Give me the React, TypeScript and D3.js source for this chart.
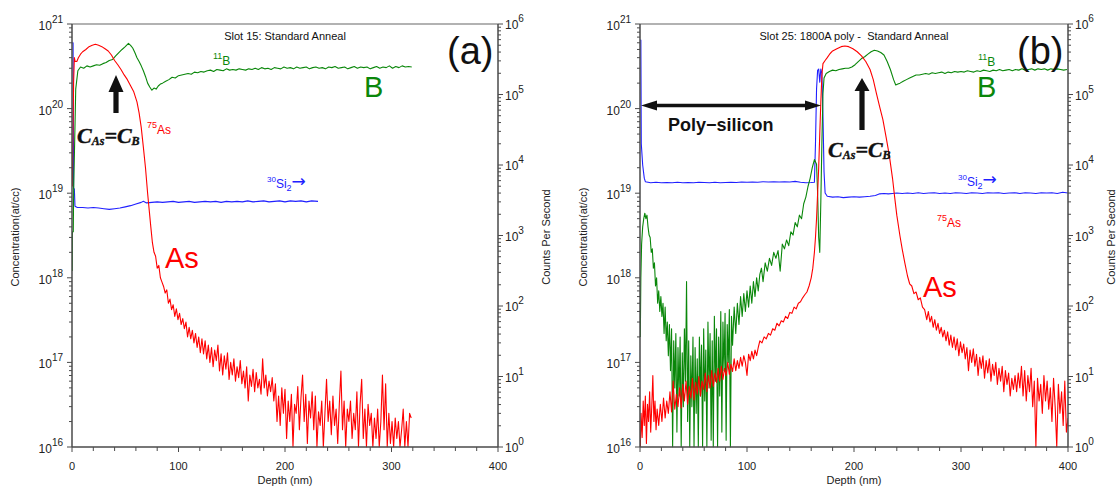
import React from "react";
import * as d3 from "d3";

type Pt = [number, number];

const depthTicks = [0, 100, 200, 300, 400];
const concExponents = [16, 17, 18, 19, 20, 21];
const countExponents = [0, 1, 2, 3, 4, 5, 6];

// Slot 15 (a): depth nm, concentration at/cc
const as15: Pt[] = [[0.3,1.2e19],[0.8,4e19],[1.5,2e20],[2.2,4e20],[3,3.6e20],[4.5,3.6e20],[6,4e20],[8,4.4e20],[10,4.7e20],[13,5e20],[16,5.4e20],[19,5.6e20],[22,5.75e20],[25,5.6e20],[28,5.4e20],[31,5.1e20],[34,4.8e20],[37,4.3e20],[40,3.7e20],[43,3.3e20],[46,2.9e20],[49,2.5e20],[52,2.2e20],[55,1.86e20],[58,1.58e20],[61,1.2e20],[63,8.9e19],[65,6e19],[67,3.5e19],[69,2e19],[71,1e19],[72.5,6.3e18],[74,4e18],[75.5,2.6e18],[77,2e18],[78.5,1.8e18],[80,1.3e18],[81.5,1.4e18],[83,1e18],[84.5,8.9e17],[86,7.9e17],[87.5,6.6e17],[89,7.2e17],[90.5,5e17],[92,5.6e17],[93.5,4.2e17],[95,4.8e17],[96.5,3.5e17],[98,4.3e17],[99.5,3.2e17],[101,3.8e17],[102.5,2.8e17],[104,3.3e17],[105.5,2.5e17],[107,3e17],[108.5,2e17],[110,2.6e17],[111.5,1.9e17],[113,2.4e17],[114.5,1.7e17],[116,2.2e17],[117.5,1.5e17],[119,2e17],[120.5,1.3e17],[122,1.9e17],[123.5,1.26e17],[125,1.8e17],[126.5,1.1e17],[128,1.6e17],[129.5,1e17],[131,1.5e17],[132.5,8.9e16],[134,1.4e17],[135.5,1.05e17],[137,1.6e17],[138.5,7.9e16],[140,1.26e17],[141.5,7.1e16],[143,1.2e17],[144.5,8.3e16],[146,1.3e17],[147.5,6.3e16],[149,1e17],[150.5,7.1e16],[152,1.1e17],[153.5,6e16],[155,8.9e16],[156.5,6.6e16],[158,1.05e17],[159.5,5.6e16],[161,7.9e16],[162.5,5e16],[164,8.9e16],[165.5,3.5e16],[167,7.1e16],[168.5,5.2e16],[170,8.3e16],[171.5,4.5e16],[173,7.6e16],[174.5,5e16],[176,6.3e16],[177.5,4.2e16],[179,1.1e17],[180.5,5e16],[182,7.1e16],[183.5,4e16],[185,6e16],[186.5,4.5e16],[188,6.6e16],[189.5,3.5e16],[191,5.6e16],[192.5,2e16],[194,4e16],[195.5,1.8e16],[197,5e16],[198.5,2.5e16],[200,4.8e16],[201.5,1.26e16],[203,3.5e16],[204.5,2e16],[206,4.2e16],[207.5,1e16],[209,3.2e16],[210.5,2.5e16],[212,5.2e16],[213.5,1.6e16],[215,3.8e16],[216.5,7.1e16],[218,2e16],[219.5,4.2e16],[221,1.1e16],[222.5,3.5e16],[224,2.2e16],[225.5,4.5e16],[227,1.6e16],[228.5,4e16],[230,1e16],[231.5,2.6e16],[233,1.8e16],[234.5,3.5e16],[236,1e16],[237.5,2.5e16],[239,6.3e16],[240.5,2e16],[242,3.5e16],[243.5,1.4e16],[245,4e16],[246.5,1.8e16],[248,2.8e16],[249.5,1.1e16],[251,3.2e16],[252.5,7.9e16],[254,1.6e16],[255.5,3.5e16],[257,1e16],[258.5,2.8e16],[260,2e16],[261.5,3.5e16],[263,1.26e16],[264.5,2.5e16],[266,1.6e16],[267.5,4.5e16],[269,1e16],[270.5,3.2e16],[272,6.3e16],[273.5,1.26e16],[275,2.8e16],[276.5,1e16],[278,3.2e16],[279.5,1.8e16],[281,2.5e16],[282.5,1e16],[284,2.2e16],[285.5,1.26e16],[287,2.8e16],[288.5,1e16],[290,2e16],[291.5,7.1e16],[293,1.6e16],[294.5,5.6e16],[296,1e16],[297.5,2.5e16],[299,1.1e16],[300.5,2e16],[302,1e16],[303.5,2.2e16],[305,1.26e16],[306.5,2e16],[308,1e16],[309.5,1.6e16],[311,2.8e16],[312.5,1e16],[314,2e16],[315.5,1e16],[317,2.5e16],[318.5,2.2e16]];

const b15: Pt[] = [[0.2,1.2e18],[0.4,3.5e18],[1.2,3.5e18],[1.6,1.2e19],[2.5,4e19],[3.5,1.7e20],[5.5,2.8e20],[8,3.1e20],[11,3e20],[14,3.2e20],[17,3.1e20],[20,3.2e20],[23,3.3e20],[26,3.25e20],[29,3.4e20],[32,3.5e20],[35,3.7e20],[38,3.8e20],[41,4.2e20],[44,4.6e20],[47,5e20],[50,5.4e20],[53,5.9e20],[55,5.6e20],[57,5.2e20],[59,4.6e20],[61,4e20],[63,3.6e20],[65,3.2e20],[67,2.8e20],[69,2.4e20],[71,2e20],[73,1.8e20],[75,1.65e20],[77,1.75e20],[79,1.7e20],[81,1.85e20],[83,1.95e20],[85,2e20],[88,2.1e20],[91,2.2e20],[94,2.35e20],[97,2.3e20],[100,2.45e20],[103,2.5e20],[106,2.55e20],[109,2.6e20],[112,2.55e20],[115,2.7e20],[118,2.65e20],[121,2.75e20],[124,2.7e20],[127,2.8e20],[130,2.85e20],[133,2.75e20],[136,2.9e20],[139,2.85e20],[142,2.8e20],[145,2.95e20],[148,2.85e20],[151,2.9e20],[154,2.85e20],[157,2.95e20],[160,2.9e20],[163,2.85e20],[166,2.95e20],[169,2.9e20],[172,3e20],[175,2.9e20],[178,3.05e20],[181,2.95e20],[184,3e20],[187,2.9e20],[190,3.05e20],[193,3e20],[196,2.95e20],[199,3.1e20],[202,3e20],[205,3.05e20],[208,2.95e20],[211,3.1e20],[214,3e20],[217,3.05e20],[220,3.1e20],[223,2.95e20],[226,3.05e20],[229,3.1e20],[232,3e20],[235,3.05e20],[238,2.95e20],[241,3.1e20],[244,3.05e20],[247,3.15e20],[250,3e20],[253,3.05e20],[256,3.1e20],[259,2.95e20],[262,3.05e20],[265,3.15e20],[268,3e20],[271,3.1e20],[274,3.05e20],[277,3.1e20],[280,2.95e20],[283,3.05e20],[286,3.15e20],[289,3e20],[292,3.1e20],[295,3.05e20],[298,3.2e20],[301,3e20],[304,3.15e20],[307,3.05e20],[310,3.2e20],[313,3.1e20],[316,3.15e20],[319,3.1e20]];

// counts per second
const si15: Pt[] = [[0.2,5.4e5],[1,5.4e5],[1.5,4.6e3],[2.2,4.6e3],[2.8,2.6e3],[5,2.5e3],[10,2.5e3],[15,2.45e3],[20,2.5e3],[25,2.45e3],[30,2.4e3],[35,2.35e3],[40,2.4e3],[45,2.45e3],[50,2.55e3],[55,2.65e3],[60,2.8e3],[65,2.95e3],[67,3.05e3],[70,2.9e3],[75,2.95e3],[80,3e3],[85,2.95e3],[90,3e3],[95,3.05e3],[100,2.95e3],[105,3e3],[110,3.05e3],[115,2.95e3],[120,3e3],[125,3.05e3],[130,3e3],[135,3.05e3],[140,2.95e3],[145,3.05e3],[150,3e3],[155,3.05e3],[160,3e3],[165,3.1e3],[170,3e3],[175,3.05e3],[180,3.1e3],[185,3e3],[190,3.05e3],[195,3.1e3],[200,3e3],[205,3.1e3],[210,3.05e3],[215,3.1e3],[220,3e3],[225,3.1e3],[231,3.05e3]];

// Slot 25 (b)
const as25: Pt[] = [[0.3,1e16],[1,2.5e16],[2,1.3e16],[3,3.5e16],[4,1.8e16],[5,4e16],[6,1.1e16],[7,3.2e16],[8,2e16],[9,4.5e16],[10,1.5e16],[11,3e16],[12,7e16],[13,2e16],[14,3.5e16],[15,1.6e16],[16,2.8e16],[17.5,1.8e16],[19,3.2e16],[20.5,2e16],[22,3.8e16],[23.5,2.2e16],[25,3.5e16],[26.5,2.5e16],[28,4.5e16],[29.5,2.6e16],[31,6e16],[32.5,2.8e16],[34,4.2e16],[35.5,3e16],[37,5e16],[38.5,2.9e16],[40,5.5e16],[41.5,3.5e16],[43,6e16],[44.5,3.2e16],[46,5.2e16],[47.5,3.8e16],[49,6.5e16],[50.5,3.6e16],[52,5.8e16],[53.5,4.2e16],[55,6.8e16],[56.5,4e16],[58,6e16],[59.5,4.8e16],[61,7.5e16],[62.5,4.5e16],[64,7e16],[65.5,5e16],[67,8e16],[68.5,5.2e16],[70,7.5e16],[71.5,5.8e16],[73,8.5e16],[74.5,6e16],[76,9e16],[77.5,6.3e16],[79,8.5e16],[80.5,7e16],[82,1e17],[83.5,7.2e16],[85,9.5e16],[86.5,7.8e16],[88,1.1e17],[89.5,8e16],[91,1.05e17],[92.5,8.5e16],[94,1.15e17],[95.5,9e16],[97,1.2e17],[98.5,1e17],[100,7e16],[101.5,1.25e17],[103,1.05e17],[104.5,1.35e17],[106,1.1e17],[107.5,1.4e17],[109,1.2e17],[110.5,1.5e17],[112,1.8e17],[114,1.7e17],[116,2e17],[118,1.9e17],[120,2.2e17],[122,2.1e17],[124,2.5e17],[126,2.4e17],[128,2.9e17],[130,2.7e17],[132,3.1e17],[134,3e17],[136,3.5e17],[138,3.3e17],[140,3.9e17],[142,3.8e17],[144,4.5e17],[146,4.3e17],[148,5e17],[150,5.2e17],[152,5.8e17],[154,6.3e17],[156,6.8e17],[158,8e17],[160,1e18],[161.5,1.3e18],[163,2e18],[164,3e18],[165,5e18],[166,1e19],[167,2e19],[168,5e19],[169,1.2e20],[170,2.5e20],[171,3.4e20],[173,3.7e20],[175,4e20],[177.5,4.45e20],[180,4.8e20],[184,5.1e20],[188,5.4e20],[191.5,5.5e20],[195,5.4e20],[199,5.1e20],[203,4.7e20],[207,4.2e20],[211,3.6e20],[215,2.9e20],[218,2.2e20],[221,1.5e20],[224,1.05e20],[227,7.4e19],[230,4.6e19],[233,2.8e19],[236,1.5e19],[238,9e18],[240,5.5e18],[243,3.1e18],[245,2.2e18],[247.5,1.5e18],[250,1.05e18],[252,8.5e17],[254,8e17],[256,6.5e17],[258,6.8e17],[260,5.5e17],[262,5.8e17],[264,4.5e17],[266,4.2e17],[268,3.2e17],[269.5,4e17],[271,3e17],[272.5,3.5e17],[274,2.6e17],[275.5,3.2e17],[277,2.4e17],[278.5,2.9e17],[280,2.2e17],[281.5,2.6e17],[283,2e17],[284.5,2.4e17],[286,1.8e17],[287.5,2.3e17],[289,1.6e17],[290.5,2.1e17],[292,1.5e17],[293.5,2e17],[295,1.4e17],[296.5,1.9e17],[298,1.2e17],[299.5,1.75e17],[301,1.3e17],[302.5,1.65e17],[304,1.1e17],[305.5,1.5e17],[307,8e16],[308.5,1.4e17],[310,1e17],[311.5,1.45e17],[313,9e16],[314.5,1.25e17],[316,7e16],[317.5,1.15e17],[319,8.5e16],[320.5,1.2e17],[322,6.5e16],[323.5,1.05e17],[325,7.5e16],[326.5,1.1e17],[328,6e16],[329.5,9.5e16],[331,7e16],[332.5,1e17],[334,5.5e16],[335.5,8.5e16],[337,6e16],[338.5,9e16],[340,4.5e16],[341.5,8e16],[343,5.5e16],[344.5,7.5e16],[346,4e16],[347.5,6.5e16],[349,4.8e16],[350.5,7e16],[352,4.5e16],[353.5,7.5e16],[355,5e16],[356.5,9e16],[358,4e16],[359.5,8e16],[361,3.5e16],[362.5,7e16],[364,4.5e16],[365.5,8.5e16],[367,3e16],[368.5,6e16],[370,1e16],[371.5,6.5e16],[373,3.5e16],[374.5,5.5e16],[376,2.5e16],[377.5,7e16],[379,3.5e16],[380.5,6e16],[382,2.8e16],[383.5,5e16],[385,2e16],[386.5,6.5e16],[388,3e16],[389.5,1e16],[391,5.5e16],[392.5,2.5e16],[394,4.5e16],[395.5,1.8e16],[397,6e16],[398.5,1.5e16],[400,2.2e16]];

const b25: Pt[] = [[0.3,2e17],[0.8,1e18],[1.5,2.5e18],[2.5,4e18],[3.5,5e18],[4.5,5.8e18],[5.5,5e18],[6.5,5.5e18],[7.5,4e18],[8.5,3.2e18],[9.5,3e18],[10.5,2e18],[11.5,2.2e18],[12.5,1.3e18],[13.5,1.5e18],[14.5,8e17],[15.5,1e18],[16.5,5e17],[17.5,7e17],[18.5,4e17],[19.5,6e17],[20.5,3.5e17],[21.5,5e17],[22.5,2.2e17],[23.5,4.5e17],[24.5,1.8e17],[25.5,3e17],[26.5,1.2e17],[27.5,2.8e17],[28.5,8e16],[29.5,2.5e17],[30.5,1e16],[31.5,1.8e17],[32.5,5e16],[33.5,2.2e17],[34.5,1.5e16],[35.5,1.5e17],[36.5,4e16],[37.5,2e17],[38.5,1e16],[39.5,1.3e17],[40.5,3e16],[41.5,2.5e17],[42.5,6e16],[43.5,9e17],[44.5,2e16],[45.5,1.8e17],[46.5,1e16],[47.5,1.2e17],[48.5,3e16],[49.5,2e17],[50.5,1e16],[51.5,1.5e17],[52.5,2.5e16],[53.5,1.1e17],[54.5,1e16],[55.5,2e17],[56.5,4e16],[57.5,1.6e17],[58.5,1e16],[59.5,2.5e17],[60.5,3.5e16],[61.5,1.4e17],[62.5,1e16],[63.5,3e17],[64.5,5e16],[65.5,2.2e17],[66.5,1.2e16],[67.5,1.8e17],[68.5,1e16],[69.5,3.5e17],[70.5,6e16],[71.5,2.5e17],[72.5,1e16],[73.5,2e17],[74.5,4e16],[75.5,4e17],[76.5,1.5e16],[77.5,3e17],[78.5,8e16],[79.5,3.8e17],[80.5,1.2e16],[81.5,2.8e17],[82.5,1e17],[83.5,4.2e17],[84.5,1e16],[85.5,3.5e17],[86.5,1.6e17],[88,4.5e17],[89.5,2.2e17],[91,5e17],[92.5,2.8e17],[94,6e17],[95.5,3.5e17],[97,6.5e17],[98.5,4e17],[100,7e17],[101.5,4.5e17],[103,8e17],[104.5,5e17],[106,9e17],[107.5,6e17],[109,1e18],[110.5,7e17],[112,1.1e18],[113.5,1.3e18],[115,9e17],[117,1.5e18],[119,1.2e18],[121,1.7e18],[123,1.4e18],[125,2e18],[127,1.7e18],[129,2.1e18],[131,1.2e18],[133,2.5e18],[135,2.2e18],[137,2.8e18],[139,2.4e18],[141,3.5e18],[143,3.2e18],[145,4.5e18],[147,4e18],[149,5.5e18],[151,5e18],[153,7.5e18],[155,9e18],[157,1.2e19],[159,1.5e19],[161,2e19],[163,2.5e19],[165,2.2e19],[166,1e19],[167,3e18],[168,2e18],[169,8e18],[170,4e19],[171,1.5e20],[172,2.3e20],[174,2.6e20],[177,2.75e20],[180,2.85e20],[183,2.8e20],[186,2.9e20],[189,2.95e20],[192,3e20],[195,3e20],[198,3.1e20],[201,3.3e20],[204,3.6e20],[207,3.9e20],[210,4.1e20],[213,4.4e20],[216,4.7e20],[219,4.9e20],[222,4.8e20],[225,4.6e20],[228,4.3e20],[231,3.6e20],[234,2.9e20],[237,2.2e20],[239,1.9e20],[241,1.95e20],[243,2e20],[246,2.1e20],[249,2.2e20],[252,2.3e20],[255,2.4e20],[258,2.5e20],[261,2.5e20],[264,2.55e20],[267,2.6e20],[270,2.55e20],[273,2.65e20],[276,2.6e20],[279,2.65e20],[282,2.7e20],[285,2.6e20],[288,2.7e20],[291,2.65e20],[294,2.75e20],[297,2.7e20],[300,2.75e20],[303,2.7e20],[306,2.8e20],[309,2.75e20],[312,2.7e20],[315,2.8e20],[318,2.75e20],[321,2.85e20],[324,2.8e20],[327,2.75e20],[330,2.85e20],[333,2.8e20],[336,2.9e20],[339,2.8e20],[342,2.85e20],[345,2.9e20],[348,2.8e20],[351,2.9e20],[354,2.85e20],[357,2.95e20],[360,2.85e20],[363,2.9e20],[366,2.95e20],[369,2.85e20],[372,2.95e20],[375,2.9e20],[378,2.95e20],[381,2.85e20],[384,2.95e20],[387,2.9e20],[390,2.95e20],[393,2.9e20],[396,2.85e20],[399,2.9e20]];

const si25: Pt[] = [[0.2,5.9e5],[0.8,5.9e5],[1.2,2e4],[2.5,1e4],[4,6.5e3],[5,5.8e3],[10,5.6e3],[15,5.7e3],[20,5.6e3],[25,5.65e3],[30,5.6e3],[35,5.7e3],[40,5.6e3],[45,5.65e3],[50,5.6e3],[55,5.7e3],[60,5.65e3],[65,5.6e3],[70,5.7e3],[75,5.6e3],[80,5.65e3],[85,5.7e3],[90,5.65e3],[95,5.75e3],[100,5.7e3],[105,5.75e3],[110,5.7e3],[115,5.8e3],[120,5.75e3],[125,5.8e3],[130,5.75e3],[135,5.8e3],[140,5.75e3],[145,5.85e3],[150,5.7e3],[155,5.6e3],[160,5.65e3],[163,5.7e3],[164,2e4],[165,1.2e5],[166,2.2e5],[167,2.3e5],[168,1.5e5],[169,2.3e5],[170,2e5],[171,5e4],[172,8e3],[173,4e3],[175,3.6e3],[180,3.5e3],[185,3.55e3],[190,3.45e3],[195,3.5e3],[200,3.55e3],[205,3.5e3],[210,3.55e3],[215,3.6e3],[220,3.7e3],[224,3.9e3],[228,3.95e3],[232,3.9e3],[236,3.95e3],[240,4e3],[245,3.95e3],[250,4e3],[255,3.95e3],[260,4.05e3],[265,3.95e3],[270,4e3],[275,4.05e3],[280,3.95e3],[285,4e3],[290,3.95e3],[295,4.05e3],[300,4e3],[305,3.95e3],[310,4.05e3],[315,4e3],[320,3.95e3],[325,4.05e3],[330,4e3],[335,4.05e3],[340,3.95e3],[345,4e3],[350,4.05e3],[355,3.95e3],[360,4.05e3],[365,4e3],[370,3.95e3],[375,4.05e3],[380,4e3],[385,4.05e3],[390,3.95e3],[395,4.1e3],[400,4e3]];

const FONT = "'Liberation Sans', Arial, Helvetica, sans-serif";
const RED = "#ff0000";
const GREEN = "#0a870a";
const BLUE = "#2020ff";
const AXIS = "#4a4a4a";
const TOP = 24;
const BOTTOM = 447;

function upArrow(cx: number, ty: number, hb: number, sb: number) {
  return [[cx, ty], [cx + 7.5, hb], [cx + 2.6, hb], [cx + 2.6, sb], [cx - 2.6, sb], [cx - 2.6, hb], [cx - 7.5, hb]]
    .map((p) => p.join(",")).join(" ");
}

function doubleArrow(x1: number, x2: number, yc: number) {
  const h = 16, hw = 5, sw = 1.8;
  return [[x1, yc], [x1 + h, yc - hw], [x1 + h, yc - sw], [x2 - h, yc - sw], [x2 - h, yc - hw], [x2, yc], [x2 - h, yc + hw], [x2 - h, yc + sw], [x1 + h, yc + sw], [x1 + h, yc + hw]]
    .map((p) => p.join(",")).join(" ");
}

function CEq({ x, y }: { x: number; y: number }) {
  return (
    <text x={x} y={y} fontFamily="'Liberation Serif', 'DejaVu Serif', serif" fontWeight="bold" fontStyle="italic" fill="#111" stroke="#111" strokeWidth={0.4}>
      <tspan fontSize={22}>C</tspan>
      <tspan fontSize={12} dy={2}>As</tspan>
      <tspan fontSize={22} dy={-2}>=C</tspan>
      <tspan fontSize={12} dy={2}>B</tspan>
    </text>
  );
}

function SiLabel({ x, y }: { x: number; y: number }) {
  return (
    <text x={x} y={y} fill={BLUE}>
      <tspan fontSize={8} dy={-6}>30</tspan>
      <tspan fontSize={12} dy={6}>Si</tspan>
      <tspan fontSize={9} dy={3}>2</tspan>
      <tspan fontSize={17} dy={-4} fontFamily="'DejaVu Sans', sans-serif">→</tspan>
    </text>
  );
}

type PanelProps = {
  id: string;
  x0: number;
  x1: number;
  title: string;
  tag: string;
  as: Pt[];
  b: Pt[];
  si: Pt[];
  countLabelX: number;
  children?: React.ReactNode;
};

function Panel({ id, x0, x1, title, tag, as, b, si, countLabelX, children }: PanelProps) {
  const x = d3.scaleLinear().domain([0, 400]).range([x0, x1]);
  const y = d3.scaleLog().domain([1e16, 1e21]).range([BOTTOM, TOP]);
  const yc = d3.scaleLog().domain([1, 1e6]).range([BOTTOM, TOP]);
  const conc = d3.line<Pt>().x((d) => x(d[0])).y((d) => y(Math.max(d[1], 1e15)));
  const counts = d3.line<Pt>().x((d) => x(d[0])).y((d) => yc(d[1]));
  const isMajor = (t: number) => Math.abs(Math.log10(t) - Math.round(Math.log10(t))) < 1e-6;
  const xMinor = d3.range(0, 401, 20);

  return (
    <g fontFamily={FONT}>
      <defs>
        <clipPath id={`clip-${id}`}>
          <rect x={x0} y={TOP} width={x1 - x0} height={BOTTOM - TOP + 0.5} />
        </clipPath>
      </defs>

      {/* data */}
      <g clipPath={`url(#clip-${id})`} fill="none" strokeWidth={1.1} strokeLinejoin="round">
        <path d={counts(si) ?? ""} stroke={BLUE} />
        <path d={conc(b) ?? ""} stroke={GREEN} />
        <path d={conc(as) ?? ""} stroke={RED} />
      </g>

      {/* frame */}
      <line x1={x0} y1={TOP} x2={x1} y2={TOP} stroke="#666" strokeWidth={1.2} />
      <g stroke={AXIS} strokeWidth={1.5}>
        <line x1={x0} y1={TOP} x2={x0} y2={BOTTOM} />
        <line x1={x1} y1={TOP} x2={x1} y2={BOTTOM} />
        <line x1={x0} y1={BOTTOM} x2={x1} y2={BOTTOM} />
      </g>

      {/* ticks */}
      <g stroke={AXIS} strokeWidth={1}>
        {y.ticks().map((t, i) => (
          <line key={i} x1={x0} x2={x0 - (isMajor(t) ? 5 : 3)} y1={y(t)} y2={y(t)} />
        ))}
        {yc.ticks().map((t, i) => (
          <line key={i} x1={x1} x2={x1 + (isMajor(t) ? 5 : 3)} y1={yc(t)} y2={yc(t)} />
        ))}
        {xMinor.map((t) => (
          <line key={t} x1={x(t)} x2={x(t)} y1={BOTTOM} y2={BOTTOM + (t % 100 === 0 ? 5 : 4)} />
        ))}
      </g>
      {concExponents.map((e) => (
        <text key={e} x={x0 - 9} y={y(Math.pow(10, e)) + 6} textAnchor="end" fontSize={12} fill="#222">
          <tspan>10</tspan>
          <tspan fontSize={10} dy={-7}>{e}</tspan>
        </text>
      ))}
      {countExponents.map((e) => (
        <text key={e} x={x1 + 7} y={yc(Math.pow(10, e)) + 5} fontSize={12} fill="#222">
          <tspan>10</tspan>
          <tspan fontSize={10} dy={-7}>{e}</tspan>
        </text>
      ))}
      {depthTicks.map((t) => (
        <text key={t} x={x(t)} y={BOTTOM + 23} textAnchor="middle" fontSize={11} fill="#222">{t}</text>
      ))}

      <text x={(x0 + x1) / 2} y={484} textAnchor="middle" fontSize={11} fill="#222">Depth (nm)</text>
      <text transform={`translate(${x0 - 53},237) rotate(-90)`} textAnchor="middle" fontSize={11} fill="#222">Concentration(at/cc)</text>
      <text transform={`translate(${countLabelX},237) rotate(-90)`} textAnchor="middle" fontSize={11} fill="#222">Counts Per Second</text>

      <text x={(x0 + x1) / 2} y={40} textAnchor="middle" fontSize={11} fill="#111" style={{ whiteSpace: "pre" }}>{title}</text>
      <text x={x1 - 51} y={64} fontSize={38} fill="#111">{tag}</text>

      {children}
    </g>
  );
}

export default function App() {
  return (
    <svg width={1118} height={487} style={{ position: "absolute", left: 0, top: 0, background: "#fff" }}>
      <Panel id="a" x0={72} x1={498} title="Slot 15: Standard Anneal" tag="(a)" as={as15} b={b15} si={si15} countLabelX={550}>
        <text x={213} y={65} fill={GREEN}>
          <tspan fontSize={9} dy={-6}>11</tspan>
          <tspan fontSize={12} dy={6}>B</tspan>
        </text>
        <text x={364} y={97} fontSize={29} fill={GREEN}>B</text>
        <text x={147} y={134} fill={RED}>
          <tspan fontSize={9} dy={-6}>75</tspan>
          <tspan fontSize={12} dy={6}>As</tspan>
        </text>
        <text x={165} y={268} fontSize={29} fill={RED}>As</text>
        <SiLabel x={267} y={188} />
        <polygon points={upArrow(116, 75, 92, 113)} fill="#111" />
        <CEq x={77} y={143} />
      </Panel>

      <Panel id="b" x0={640} x1={1068} title="Slot 25: 1800A poly -  Standard Anneal" tag="(b)" as={as25} b={b25} si={si25} countLabelX={1115}>
        <text x={978} y={66} fill={GREEN}>
          <tspan fontSize={9} dy={-6}>11</tspan>
          <tspan fontSize={12} dy={6}>B</tspan>
        </text>
        <text x={977} y={97} fontSize={29} fill={GREEN}>B</text>
        <text x={937} y={227} fill={RED}>
          <tspan fontSize={9} dy={-6}>75</tspan>
          <tspan fontSize={12} dy={6}>As</tspan>
        </text>
        <text x={923} y={297} fontSize={29} fill={RED}>As</text>
        <SiLabel x={958} y={186} />
        <polygon points={doubleArrow(641, 821, 105.5)} fill="#111" />
        <text x={668} y={131} fontSize={18} fontWeight="bold" fill="#111">Poly−silicon</text>
        <polygon points={upArrow(862, 78, 91, 130)} fill="#111" />
        <CEq x={828} y={157} />
      </Panel>
    </svg>
  );
}
